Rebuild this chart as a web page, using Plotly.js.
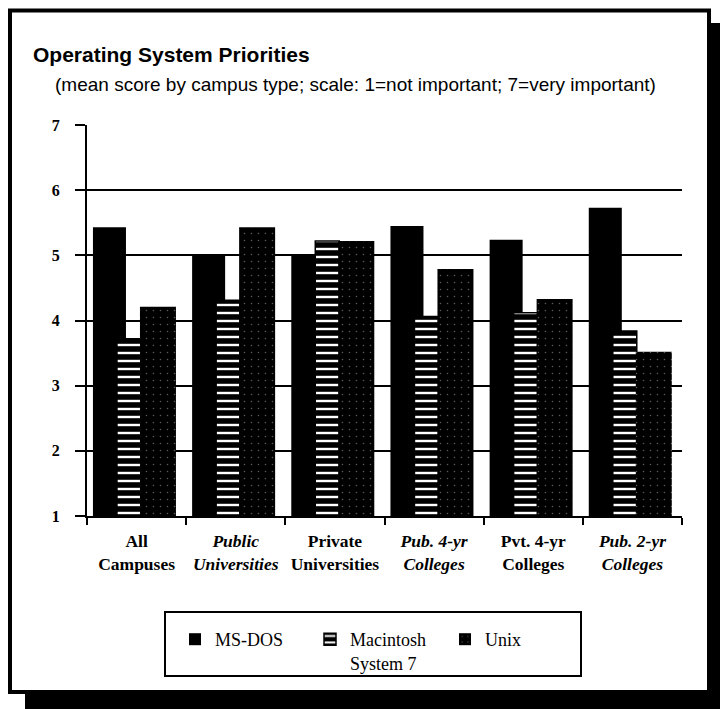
<!DOCTYPE html>
<html><head><meta charset="utf-8">
<script src="https://cdn.plot.ly/plotly-3.0.1.min.js"></script>
<style>html,body{margin:0;padding:0;background:#fff;} #chart{width:720px;height:709px;}</style>
</head><body><div id="chart"></div>
<script>
// ---- data ----
const categories = ["All Campuses","Public Universities","Private Universities","Pub. 4-yr Colleges","Pvt. 4-yr Colleges","Pub. 2-yr Colleges"];
const tickLabels = ["All<br>Campuses","<i>Public</i><br><i>Universities</i>","Private<br>Universities","<i>Pub. 4-yr</i><br><i>Colleges</i>","Pvt. 4-yr<br>Colleges","<i>Pub. 2-yr</i><br><i>Colleges</i>"];
const msdos = [5.43, 5.00, 5.00, 5.45, 5.24, 5.73];
const mac   = [3.72, 4.31, 5.22, 4.06, 4.12, 3.84];
const unix  = [4.21, 5.43, 5.22, 4.79, 4.33, 3.52];
const yTickVals = [1, 2, 3, 4, 5, 6, 7];
const seriesNames = ["MS-DOS", "Macintosh<br>System 7", "Unix"];

// ---- geometry helpers (plot area in pixels) ----
const L = 87, R = 682, T = 125, B = 516;
const px = x => (x - L) / (R - L);
const py = y => (B - y) / (B - T);

const serif = "Liberation Serif, Times New Roman, serif";
const sans = "Liberation Sans, Arial, Helvetica, sans-serif";

const traces = [
  {type:'bar', name:seriesNames[0], x:categories, y:msdos, offset:-0.44, width:0.333,
   marker:{color:'#000', line:{width:0}}},
  {type:'bar', name:seriesNames[1], x:categories, y:mac, offset:-0.198, width:0.242,
   marker:{color:'#000', line:{color:'#000', width:1.5},
     pattern:{shape:'-', fgcolor:'#fff', bgcolor:'#000', size:8, solidity:0.3, fillmode:'replace'}}},
  {type:'bar', name:seriesNames[2], x:categories, y:unix, offset:0.034, width:0.363,
   marker:{color:'#000', line:{width:0},
     pattern:{shape:'.', fgcolor:'#5a5a5a', bgcolor:'#000', size:7, solidity:0.04, fillmode:'replace'}}}
];

const layout = {
  width:720, height:709,
  margin:{l:L, r:720-R, t:T, b:709-B, pad:0},
  paper_bgcolor:'#fff', plot_bgcolor:'#fff',
  barmode:'overlay',
  hovermode:false,
  showlegend:true,
  title:{text:'<b>Operating System Priorities</b>', xref:'container', yref:'container',
    x:33/720, xanchor:'left', y:1-55/709, yanchor:'middle',
    font:{family:sans, size:21, color:'#000'}},
  xaxis:{type:'category', categoryarray:categories, tickvals:categories, ticktext:tickLabels,
    tickson:'boundaries', ticks:'outside', ticklen:7, tickwidth:2, tickcolor:'#000',
    showline:true, linecolor:'#000', linewidth:2, showgrid:false, zeroline:false,
    tickfont:{family:serif, size:17.5, color:'#000', weight:'bold'}, ticklabelstandoff:8, fixedrange:true},
  yaxis:{range:[1,7], tickvals:yTickVals, ticks:'outside', ticklen:10, tickwidth:2, tickcolor:'#000',
    showline:true, linecolor:'#000', linewidth:2, showgrid:true, gridcolor:'#000', gridwidth:2,
    zeroline:false, tickfont:{family:serif, size:16, color:'#000', weight:'bold'},
    ticklabelstandoff:12, fixedrange:true},
  legend:{orientation:'h', x:px(175), xanchor:'left', y:py(621), yanchor:'top',
    font:{family:serif, size:18, color:'#000'}, bgcolor:'rgba(0,0,0,0)', borderwidth:0,
    entrywidth:90, entrywidthmode:'pixels', traceorder:'normal', valign:'top'},
  annotations:[
    {text:'(mean score by campus type; scale: 1=not important; 7=very important)',
     xref:'paper', yref:'paper', x:px(53), xanchor:'left', y:py(84), yanchor:'middle',
     showarrow:false, font:{family:sans, size:19, color:'#000'}}
  ],
  shapes:[
    // legend box
    {type:'rect', xref:'paper', yref:'paper', x0:px(165), x1:px(581), y0:py(612), y1:py(676),
     line:{color:'#000', width:2}, fillcolor:'rgba(0,0,0,0)'},
    // outer frame
    {type:'rect', xref:'paper', yref:'paper', x0:px(10), x1:px(709), y0:py(10.5), y1:py(692),
     line:{color:'#000', width:4}, fillcolor:'rgba(0,0,0,0)'},
    // drop shadow right
    {type:'rect', xref:'paper', yref:'paper', x0:px(710), x1:px(725), y0:py(23), y1:py(715),
     line:{width:0}, fillcolor:'#000'},
    // drop shadow bottom
    {type:'rect', xref:'paper', yref:'paper', x0:px(25), x1:px(725), y0:py(693), y1:py(715),
     line:{width:0}, fillcolor:'#000'}
  ]
};

Plotly.newPlot('chart', traces, layout, {displayModeBar:false, staticPlot:true});
</script>
</body></html>
